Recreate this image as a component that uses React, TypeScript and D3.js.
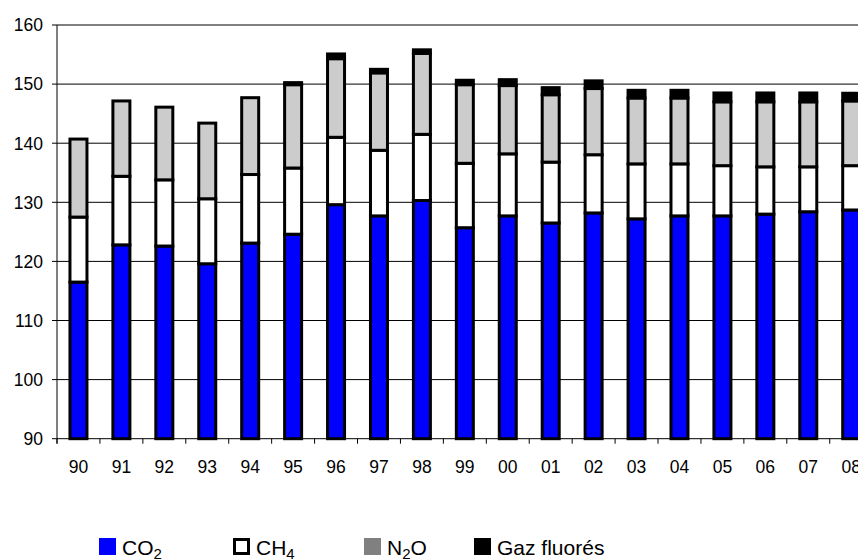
import React, { useEffect, useRef } from 'react';
import * as d3 from 'd3';

const years = ['90', '91', '92', '93', '94', '95', '96', '97', '98', '99', '00', '01', '02', '03', '04', '05', '06', '07', '08'];
const co2 = [116.5, 122.8, 122.6, 119.6, 123.1, 124.6, 129.6, 127.7, 130.3, 125.7, 127.7, 126.5, 128.2, 127.2, 127.7, 127.7, 128.0, 128.4, 128.7];
const ch4 = [11.0, 11.6, 11.2, 11.0, 11.6, 11.2, 11.4, 11.1, 11.2, 10.9, 10.5, 10.3, 9.85, 9.3, 8.8, 8.5, 8.0, 7.6, 7.5];
const n2o = [13.2, 12.75, 12.3, 12.8, 13.0, 14.1, 13.3, 13.1, 13.7, 13.3, 11.55, 11.4, 11.2, 11.15, 11.15, 10.8, 11.0, 11.0, 10.95];
const fgas = [0, 0, 0, 0, 0, 0.35, 0.8, 0.6, 0.6, 0.75, 1.0, 1.2, 1.3, 1.3, 1.3, 1.5, 1.5, 1.5, 1.3];
const yTicks = [90, 100, 110, 120, 130, 140, 150, 160];

const seriesKeys = ['co2', 'ch4', 'n2o', 'fgas'];
const barColors: Record<string, string> = { co2: '#0000ff', ch4: '#ffffff', n2o: '#cccccc', fgas: '#000000' };

const App: React.FC = () => {
  const svgRef = useRef<SVGSVGElement>(null);

  useEffect(() => {
    if (!svgRef.current) return;
    const svg = d3.select(svgRef.current);
    svg.selectAll('*').remove();

    const W = 858;
    const left = 57;
    const bottom = 438.7;
    const top = 25;
    const band = 42.93;

    const x = d3.scaleBand<string>().domain(years).range([left, left + band * years.length]).padding(0);
    const y = d3.scaleLinear().domain([90, 160]).range([bottom, top]).clamp(true);

    const rows = years.map((yr, i) => ({ year: yr, co2: co2[i], ch4: ch4[i], n2o: n2o[i], fgas: fgas[i] }));
    const stacked = d3.stack<any>().keys(seriesKeys)(rows);

    // grid lines
    svg.append('g')
      .selectAll('line')
      .data(yTicks)
      .enter()
      .append('line')
      .attr('x1', left)
      .attr('x2', W)
      .attr('y1', d => y(d))
      .attr('y2', d => y(d))
      .attr('stroke', '#000')
      .attr('stroke-width', 1);

    // y axis
    const yAxis = svg.append('g');
    yAxis.append('line')
      .attr('x1', left).attr('x2', left)
      .attr('y1', top).attr('y2', bottom + 5)
      .attr('stroke', '#000');
    yAxis.selectAll('.tick')
      .data(yTicks)
      .enter()
      .append('line')
      .attr('x1', left - 5).attr('x2', left)
      .attr('y1', d => y(d)).attr('y2', d => y(d))
      .attr('stroke', '#000');
    yAxis.selectAll('text')
      .data(yTicks)
      .enter()
      .append('text')
      .attr('x', 43)
      .attr('y', d => y(d))
      .attr('dy', '0.36em')
      .attr('text-anchor', 'end')
      .attr('font-family', 'Liberation Sans, Arial, sans-serif')
      .attr('font-size', 17.5)
      .text(d => d);

    // x ticks at band boundaries
    const bounds = years.map(yr => x(yr) as number);
    svg.append('g')
      .selectAll('line')
      .data(bounds)
      .enter()
      .append('line')
      .attr('x1', d => d).attr('x2', d => d)
      .attr('y1', bottom).attr('y2', bottom + 5)
      .attr('stroke', '#000');

    svg.append('g')
      .selectAll('text')
      .data(years)
      .enter()
      .append('text')
      .attr('x', d => (x(d) as number) + x.bandwidth() / 2)
      .attr('y', 473)
      .attr('text-anchor', 'middle')
      .attr('font-family', 'Liberation Sans, Arial, sans-serif')
      .attr('font-size', 17.5)
      .text(d => d);

    // bars
    const barW = 17;
    const off = (x.bandwidth() - barW) / 2;
    svg.append('g')
      .selectAll('g')
      .data(stacked)
      .enter()
      .append('g')
      .attr('fill', d => barColors[d.key])
      .selectAll('rect')
      .data(d => d)
      .enter()
      .append('rect')
      .attr('x', d => (x(d.data.year) as number) + off)
      .attr('y', d => y(d[1]))
      .attr('width', barW)
      .attr('height', d => Math.max(0, y(d[0]) - y(d[1])))
      .attr('stroke', '#000')
      .attr('stroke-width', 3);

    // legend
    const legend = [
      { x: 99, fill: '#0000ff', stroke: 'none', label: 'CO', sub: '2', tail: '' },
      { x: 233, fill: '#ffffff', stroke: '#000', label: 'CH', sub: '4', tail: '' },
      { x: 364, fill: '#808080', stroke: 'none', label: 'N', sub: '2', tail: 'O' },
      { x: 474, fill: '#000000', stroke: 'none', label: 'Gaz fluorés', sub: '', tail: '' },
    ];
    const lg = svg.append('g')
      .selectAll('g')
      .data(legend)
      .enter()
      .append('g');
    lg.append('rect')
      .attr('x', d => (d.stroke === 'none' ? d.x : d.x + 1.5))
      .attr('y', d => (d.stroke === 'none' ? 538 : 539.5))
      .attr('width', d => (d.stroke === 'none' ? 17 : 14))
      .attr('height', d => (d.stroke === 'none' ? 17 : 14))
      .attr('fill', d => d.fill)
      .attr('stroke', d => d.stroke)
      .attr('stroke-width', 3);
    const lt = lg.append('text')
      .attr('x', d => d.x + 23)
      .attr('y', 555)
      .attr('font-family', 'Liberation Sans, Arial, sans-serif')
      .attr('font-size', 21);
    lt.append('tspan').text(d => d.label);
    lt.append('tspan')
      .attr('dy', 4)
      .attr('font-size', 15)
      .text(d => d.sub);
    lt.append('tspan')
      .attr('dy', -4)
      .text(d => d.tail);
  }, []);

  return (
    <svg
      ref={svgRef}
      width={858}
      height={560}
      style={{ position: 'absolute', left: 0, top: 0, background: '#fff' }}
    />
  );
};

export default App;
